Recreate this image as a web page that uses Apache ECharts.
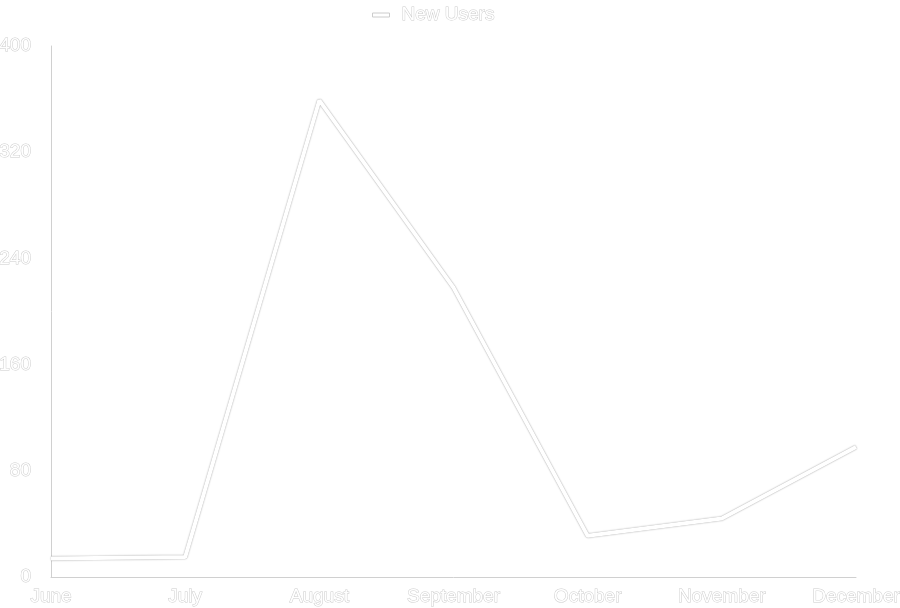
<!DOCTYPE html>
<html>
<head>
<meta charset="utf-8">
<script src="https://cdn.jsdelivr.net/npm/echarts@6/dist/echarts.min.js"></script>
<style>
  html, body { margin: 0; padding: 0; background: #fff; }
  #chart { width: 900px; height: 608px; }
</style>
</head>
<body>
<div id="chart"></div>
<script>
const months = ["June", "July", "August", "September", "October", "November", "December"]
const newUsers = [14, 15, 359, 218, 31, 44, 98]

const textStyle = {
	color: "#fff",
	fontFamily: "Liberation Sans",
	fontSize: 19,
	textBorderColor: "#cccccc",
	textBorderWidth: 1
}

const chart = echarts.init(document.querySelector("#chart"))
chart.setOption({
	backgroundColor: "#fff",
	animation: false,
	legend: {
		top: 0,
		left: 367,
		itemWidth: 17,
		itemHeight: 4,
		icon: "rect",
		itemStyle: { color: "#fff", borderColor: "#cccccc", borderWidth: 1 },
		textStyle: Object.assign({ padding: [0, 0, 0, 7] }, textStyle),
		data: ["New Users"]
	},
	grid: {
		left: 51,
		right: 44,
		top: 46,
		bottom: 31,
		containLabel: false,
		outerBoundsMode: "none"
	},
	xAxis: {
		type: "category",
		boundaryGap: false,
		data: months,
		axisLine: { lineStyle: { color: "#d0d0d0", width: 1 } },
		axisTick: { show: false },
		axisLabel: Object.assign({ margin: 10, hideOverlap: false }, textStyle)
	},
	yAxis: {
		type: "value",
		min: 0,
		max: 400,
		interval: 80,
		axisLine: { show: true, lineStyle: { color: "#d0d0d0", width: 1 } },
		axisTick: { show: false },
		splitLine: { show: false },
		axisLabel: Object.assign({ margin: 20 }, textStyle)
	},
	series: [
		{
			name: "New Users",
			type: "line",
			data: newUsers,
			showSymbol: false,
			symbol: "none",
			itemStyle: { color: "#fff", borderColor: "#cccccc" },
			lineStyle: {
				color: "#fff",
				width: 4,
				shadowColor: "rgba(0,0,0,0.45)",
				shadowBlur: 1.5
			}
		}
	]
})
</script>
</body>
</html>
